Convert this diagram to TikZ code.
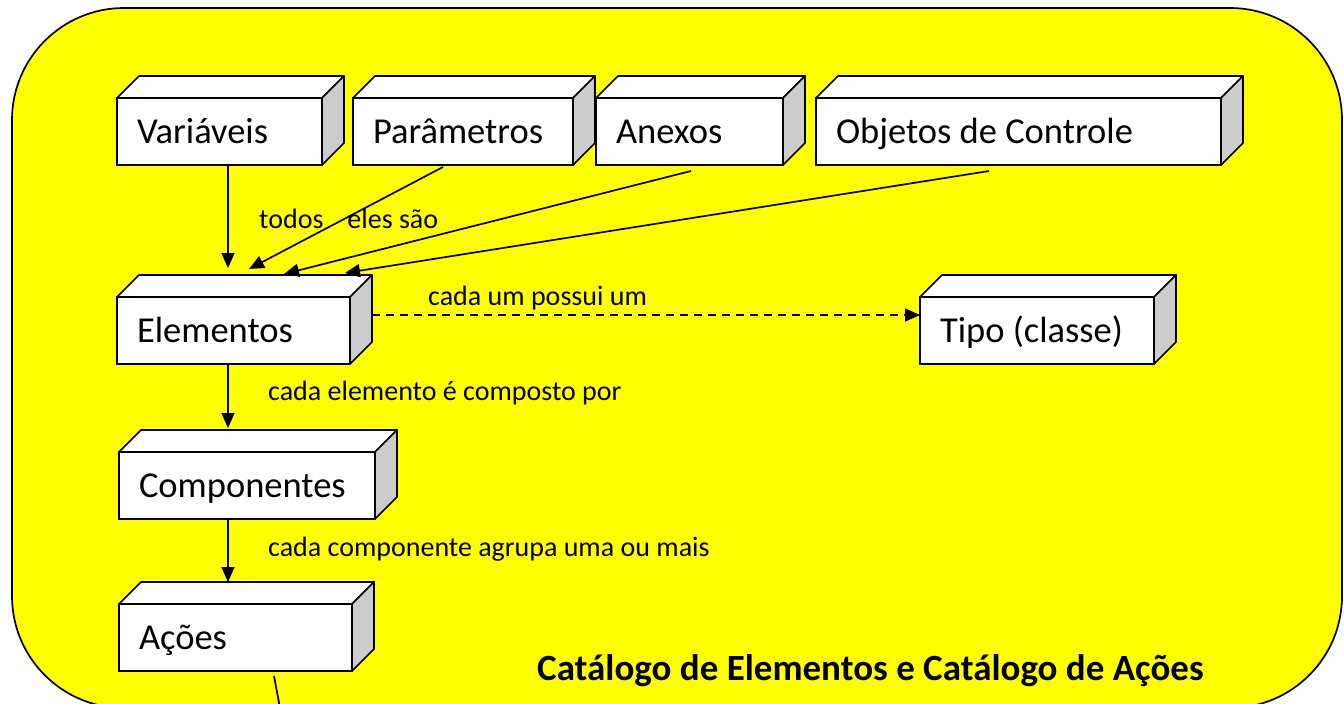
\documentclass[tikz,border=0pt]{standalone}
\usepackage{fontspec}
\setmainfont{Carlito}
\usetikzlibrary{calc}
\usetikzlibrary{arrows.meta}
\definecolor{cinza}{RGB}{204,204,204}
\definecolor{amarelo}{RGB}{255,255,0}

\tikzset{
 caixa/.style={draw=black, line width=1.7pt, fill=white, anchor=north west, outer sep=0pt, minimum height=67pt, inner xsep=20pt, align=flush left, font=\fontsize{36.5}{40}\selectfont, text height=23.5pt, text depth=0pt},
 rotulo/.style={anchor=base west, inner sep=0pt, font=\fontsize{28}{32}\selectfont},
 seta/.style={line width=1.7pt, -{Triangle[length=15pt,width=13pt]}},
}

\begin{document}
\begin{tikzpicture}[x=1pt, y=-1pt]
\useasboundingbox (0,0) rectangle (1344,704);
\clip (0,0) rectangle (1344,704);
\draw[fill=amarelo, line width=1.7pt, rounded corners=112pt] (12,8) rectangle (1342,708);
\foreach \n/\x/\y/\w/\t in {var/117/98/165/Variáveis, par/353/98/180/Parâmetros, anx/596/98/147/Anexos, obj/816/98/365/Objetos de Controle, ele/117/297/193/Elementos, tip/920/297/194/Tipo (classe), com/119/452/216/Componentes, aco/119/604/193/Ações}{
 \node[caixa, text width=\w pt] (\n) at (\x,\y) {\t};
 \draw[line width=1.7pt, line join=round, fill=white] (\n.north west) --++(22,-22) -- ($(\n.north east)+(22,-22)$) -- (\n.north east) -- cycle;
 \draw[line width=1.7pt, line join=round, fill=cinza] (\n.north east) --++(22,-22) -- ($(\n.south east)+(22,-22)$) -- (\n.south east) -- cycle;
}
\coordinate (pv) at (228,268);
\coordinate (pp) at (249,269);
\coordinate (pa) at (284,274);
\coordinate (po) at (345,273);
\coordinate (pc) at (228,428);
\coordinate (pe) at (228,582);
\coordinate (pf) at (280,708);
\draw[seta] (var.south -| pv) -- (pv);
\draw[seta] ($(par.south west)+(90,2)$) -- (pp);
\draw[seta] ($(anx.south west)+(95,6)$) -- (pa);
\draw[seta] ($(obj.south west)+(173,6)$) -- (po);
\draw[seta, dash pattern=on 8pt off 6pt] ($(ele.north east)+(22,18)$) -- ($(tip.north west)+(0,18)$);
\draw[seta] (ele.south -| pc) -- (pc);
\draw[seta] (com.south -| pe) -- (pe);
\draw[line width=1.7pt] ($(aco.south west)+(155,5)$) -- (pf);
\node[rotulo] (todos) at (259,228) {todos\hspace{24pt}eles são};
\node[rotulo] (possui) at (428,305) {cada um possui um};
\node[rotulo] (composto) at (268,400) {cada elemento é composto por};
\node[rotulo] (agrupa) at (268,556) {cada componente agrupa uma ou mais};
\node[anchor=base west, inner sep=0pt, font=\bfseries\fontsize{37}{40}\selectfont] (titulo) at (537,680) {Catálogo de Elementos e Catálogo de Ações};
\end{tikzpicture}
\end{document}
